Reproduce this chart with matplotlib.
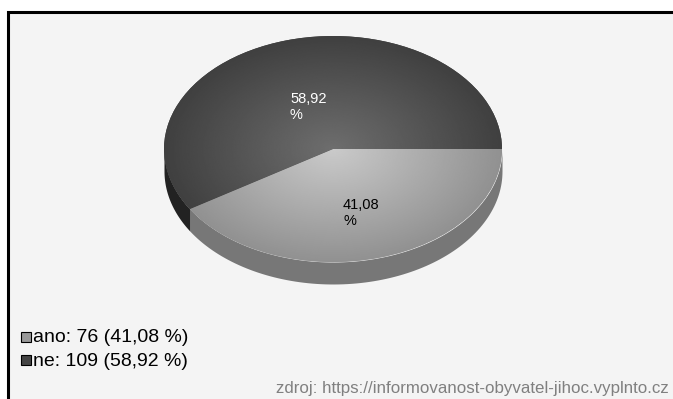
import numpy as np
import matplotlib.pyplot as plt
from matplotlib.patches import Rectangle

labels = ['ano', 'ne']
values = [76, 109]
percents = ['41,08', '58,92']
source = 'zdroj: https://informovanost-obyvatel-jihoc.vyplnto.cz'

plt.rcParams['font.family'] = ['Liberation Sans', 'DejaVu Sans']

W, H = 673, 399
fig = plt.figure(figsize=(W / 100, H / 100), dpi=100, facecolor='white')

# background axes in pixel coordinates (frame)
bg = fig.add_axes([0, 0, 1, 1])
bg.set_xlim(0, W)
bg.set_ylim(H, 0)
bg.axis('off')
bg.add_patch(Rectangle((8, 12), W, H, fc='#f4f4f4', ec='black', lw=2.2))

# pie axes, stretched so the circle turns into an ellipse
rx, ry, depth = 169, 113, 22
cx, cy = 333, 149
pie_ax = fig.add_axes([(cx - rx) / W, 1 - (cy + ry + depth) / H, 2 * rx / W, (2 * ry + depth) / H])
pie_ax.patch.set_alpha(0)

# side wall of the pie
split = 360 * values[0] / sum(values)
t1 = np.radians(np.linspace(0, split, 100))
t2 = np.radians(np.linspace(split, 180, 40))
d = depth / ry
pie_ax.fill_between(np.cos(t1), -np.sin(t1), -np.sin(t1) - d, color='#777777', lw=0)
pie_ax.fill_between(np.cos(t2), -np.sin(t2), -np.sin(t2) - d, color='#222222', lw=0)

wedges, _ = pie_ax.pie(values, startangle=0, counterclock=False, radius=1, colors=['#919191', '#404040'])
pie_ax.set_aspect('auto')

# radial shading, clipped to each wedge
yy, xx = np.mgrid[-1.3:1:400j, -1:1:400j]
rr = np.sqrt(xx**2 + yy**2)
for w, inner, outer in zip(wedges, (202, 110), (145, 64)):
    shade = inner + (outer - inner) * np.clip(rr, 0, 1)
    im = pie_ax.imshow(shade, extent=(-1, 1, -1.3, 1), origin='lower', cmap='gray', vmin=0, vmax=255,
                       aspect='auto', zorder=3)
    im.set_clip_path(w)
pie_ax.set_xlim(-1, 1)
pie_ax.set_ylim(-1 - d, 1)

# overlay for labels, legend and source
top = fig.add_axes([0, 0, 1, 1])
top.set_xlim(0, W)
top.set_ylim(H, 0)
top.axis('off')
top.text(290, 107, percents[1] + '\n%', color='white', fontsize=10.5, linespacing=1.2, va='center', ha='left')
top.text(343, 213, percents[0] + '\n%', color='black', fontsize=10.5, linespacing=1.2, va='center', ha='left')

# legend
for y, lab, v, p, col in zip((337, 360), labels, values, percents, ('#999999', '#444444')):
    top.add_patch(Rectangle((21, y - 5), 10, 10, fc=col, ec='black', lw=0.8))
    top.text(33, y + 1, f'{lab}: {v} ({p} %)', fontsize=14, color='black', va='center', ha='left')

top.text(669, 388, source, fontsize=12.2, color='#808080', va='center', ha='right')

fig.savefig('out.png', dpi=100)
